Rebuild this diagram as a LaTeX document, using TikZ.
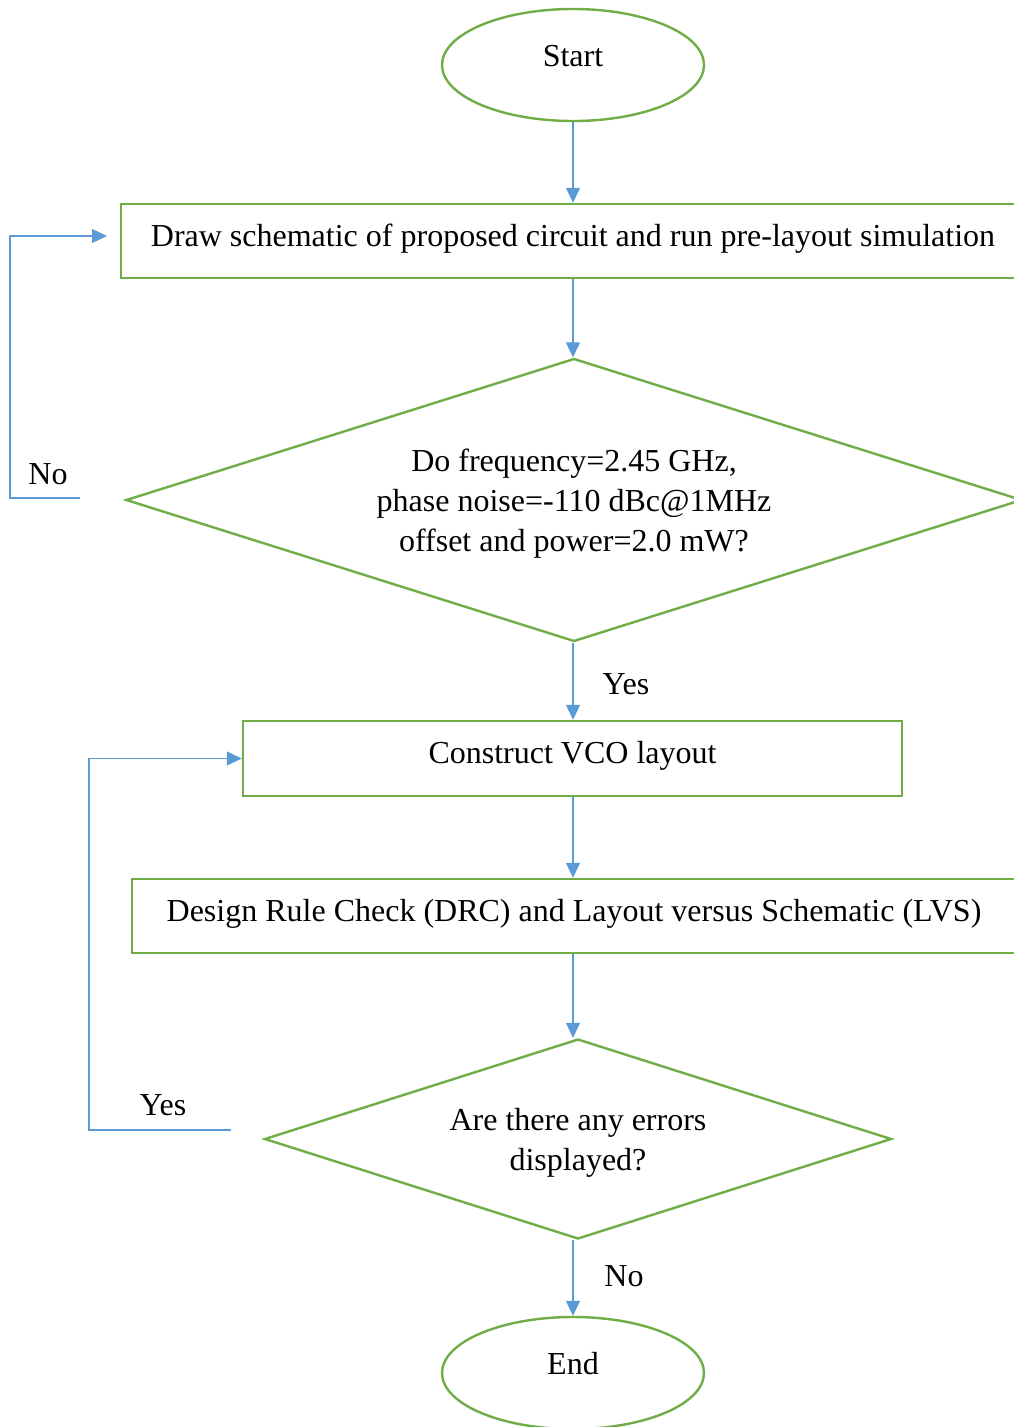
\documentclass[tikz,border=0pt]{standalone}
\usepackage{fontspec}
\setmainfont{Liberation Serif}
\usetikzlibrary{shapes.geometric,arrows.meta}
\definecolor{boxgreen}{RGB}{112,173,71}
\definecolor{linkblue}{RGB}{91,155,213}
\tikzset{
	term/.style={
		shape = ellipse,
		draw = boxgreen,
		line width = 2.4pt,
		minimum width = 262pt,
		minimum height = 112pt,
		inner sep = 0pt,
		text height = 7pt,
		text depth = 4pt
	},
	stepbox/.style={
		shape = rectangle,
		draw = boxgreen,
		line width = 2.4pt,
		minimum height = 74pt,
		inner sep = 0pt,
		text height = 14pt,
		text depth = 4pt
	},
	test/.style={
		shape = diamond,
		draw = boxgreen,
		line width = 2.4pt,
		inner sep = 0pt,
		aspect = 3.15,
		align = center,
		text depth = 0pt
	},
	flow/.style={
		draw = linkblue,
		line width = 1.2pt,
		->
	},
}
\tikzset{>={Triangle[length=15pt,width=14pt]}}

\begin{document}
\begin{tikzpicture}[x=1pt, y=-1pt, font=\fontsize{32}{40}\selectfont]
    \useasboundingbox (0,0) rectangle (1014,1427);
    \node[term] (start) at (573,65) {Start};
    \node[stepbox, minimum width=904pt] (draw) at (573,241)
      {Draw schematic of proposed circuit and run pre-layout simulation};
    \node[test, minimum width=896pt, minimum height=283pt, text height=102pt] (spec) at (574,500)
      {Do frequency=2.45 GHz,\\ phase noise=-110 dBc@1MHz\\ offset and power=2.0 mW?};
    \node[stepbox, minimum width=659pt, minimum height=75pt] (vco) at (572.5,758.5)
      {Construct VCO layout};
    \node[stepbox, minimum width=884pt] (drc) at (574,916)
      {Design Rule Check (DRC) and Layout versus Schematic (LVS)};
    \node[test, minimum width=627pt, minimum height=200pt, text height=62pt] (check) at (578,1139)
      {Are there any errors\\ displayed?};
    \node[term] (end) at (573,1373) {End};
    \foreach \a/\b in {start/draw, draw/spec, spec/vco, vco/drc, drc/check, check/end}{
      \draw[flow] (\a.south -| start) -- (\b.north -| start);
    }
    \node (yes1) at (626,684) {Yes};
    \node (no2) at (624,1276) {No};
    % loops back
    \coordinate (redo) at (80,498);
    \coordinate (again) at (107,236);
    \node (no1) at (48,474) {No};
    \draw[flow] (redo) -- ++(-70,0) |- (again);
    \coordinate (fix) at (231,1130);
    \node (yes2) at (163,1105) {Yes};
    \draw[flow] (fix) -- ++(-142,0) |- (vco.west);
  \end{tikzpicture}
\end{document}
